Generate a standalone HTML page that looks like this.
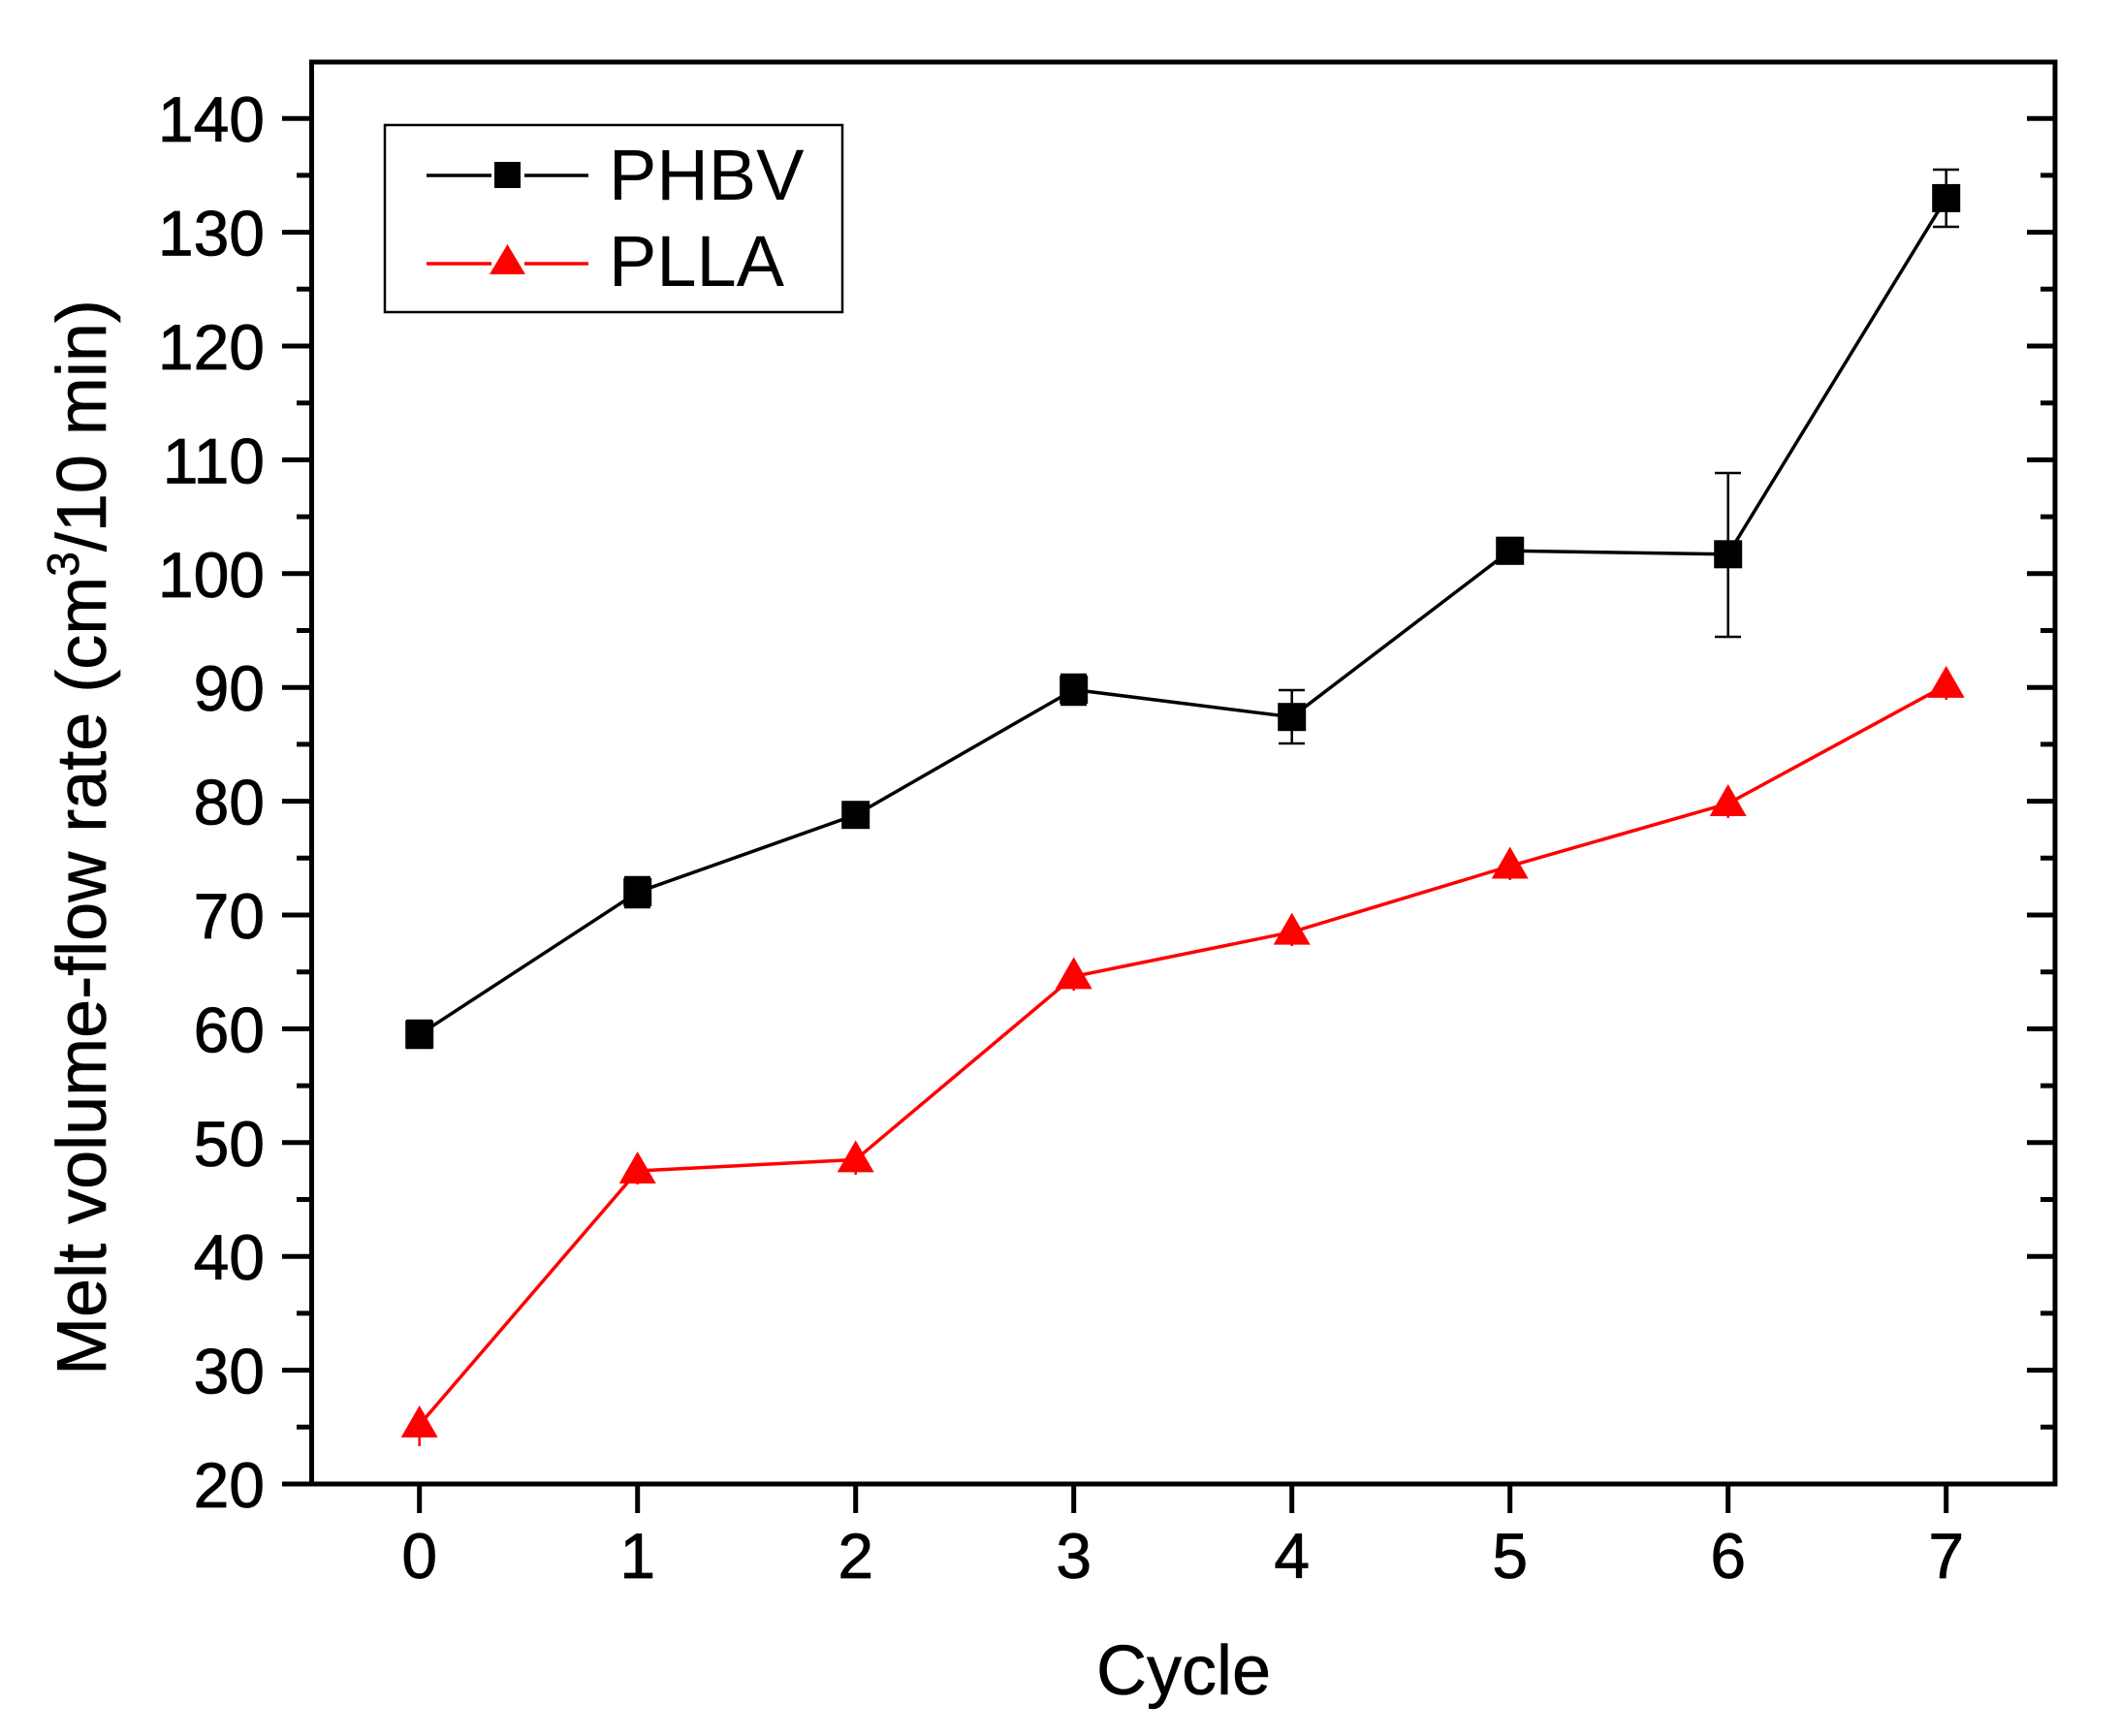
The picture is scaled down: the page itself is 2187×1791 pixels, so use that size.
<!DOCTYPE html>
<html><head><meta charset="utf-8"><style>html,body{margin:0;padding:0;background:#fff}svg{display:block}</style></head>
<body>
<svg width="2187" height="1791" viewBox="0 0 2187 1791" xmlns="http://www.w3.org/2000/svg" font-family="Liberation Sans, Arial, sans-serif">
<rect width="2187" height="1791" fill="#fff"/>
<g stroke="#000" stroke-width="5">
<path d="M291 1531H322M291 1413.6H322M291 1296.2H322M291 1178.8H322M291 1061.4H322M291 944H322M291 826.6H322M291 709.2H322M291 591.8H322M291 474.4H322M291 357H322M291 239.6H322M291 122.2H322"/>
<path d="M306 1472.3H322M306 1354.9H322M306 1237.5H322M306 1120.1H322M306 1002.7H322M306 885.3H322M306 767.9H322M306 650.5H322M306 533.1H322M306 415.7H322M306 298.3H322M306 180.9H322"/>
<path d="M2091 1413.6H2120M2091 1296.2H2120M2091 1178.8H2120M2091 1061.4H2120M2091 944H2120M2091 826.6H2120M2091 709.2H2120M2091 591.8H2120M2091 474.4H2120M2091 357H2120M2091 239.6H2120M2091 122.2H2120"/>
<path d="M2105 1472.3H2120M2105 1354.9H2120M2105 1237.5H2120M2105 1120.1H2120M2105 1002.7H2120M2105 885.3H2120M2105 767.9H2120M2105 650.5H2120M2105 533.1H2120M2105 415.7H2120M2105 298.3H2120M2105 180.9H2120"/>
<path d="M432.7 1531V1561M657.7 1531V1561M882.7 1531V1561M1107.7 1531V1561M1332.7 1531V1561M1557.7 1531V1561M1782.7 1531V1561M2007.7 1531V1561"/>
</g>
<rect x="321.5" y="64" width="1798.5" height="1467" fill="none" stroke="#000" stroke-width="5"/>
<g font-size="66" text-anchor="end" fill="#000" stroke="#000" stroke-width="0.8">
<text x="273" y="1555">20</text><text x="273" y="1437.6">30</text><text x="273" y="1320.2">40</text><text x="273" y="1202.8">50</text><text x="273" y="1085.4">60</text><text x="273" y="968">70</text><text x="273" y="850.6">80</text><text x="273" y="733.2">90</text><text x="273" y="615.8">100</text><text x="273" y="498.4">110</text><text x="273" y="381">120</text><text x="273" y="263.6">130</text><text x="273" y="146.2">140</text>
</g>
<g font-size="66" text-anchor="middle" fill="#000" stroke="#000" stroke-width="0.8">
<text x="432.7" y="1628">0</text><text x="657.7" y="1628">1</text><text x="882.7" y="1628">2</text><text x="1107.7" y="1628">3</text><text x="1332.7" y="1628">4</text><text x="1557.7" y="1628">5</text><text x="1782.7" y="1628">6</text><text x="2007.7" y="1628">7</text>
</g>
<text x="1221" y="1748" font-size="72" text-anchor="middle" stroke="#000" stroke-width="0.6">Cycle</text>
<text transform="translate(109,864) rotate(-90)" font-size="72" text-anchor="middle" stroke="#000" stroke-width="0.6">Melt volume-flow rate (cm<tspan dy="-28" font-size="46">3</tspan><tspan dy="28">/10 min)</tspan></text>
<polyline fill="none" stroke="#000" stroke-width="3.5" points="432.7,1067.3 657.7,920.5 882.7,840.7 1107.7,711.5 1332.7,739.7 1557.7,568.3 1782.7,571.8 2007.7,204.4"/>
<g stroke="#000" stroke-width="2.5">
<path d="M432.7 1053V1081M419 1053H446M419 1081H446"/>
<path d="M657.7 905V936M644 905H671M644 936H671"/>
<path d="M1107.7 696V727M1094 696H1121M1094 727H1121"/>
<path d="M1332.7 712V767M1319 712H1346M1319 767H1346"/>
<path d="M1557.7 555V581M1544 555H1571M1544 581H1571"/>
<path d="M1782.7 488V657M1769 488H1796M1769 657H1796"/>
<path d="M2007.7 175V234M1994 175H2021M1994 234H2021"/>
</g>
<g fill="#000">
<rect x="418.2" y="1052.8" width="29" height="29"/><rect x="643.2" y="906" width="29" height="29"/><rect x="868.2" y="826.2" width="29" height="29"/><rect x="1093.2" y="697" width="29" height="29"/><rect x="1318.2" y="725.2" width="29" height="29"/><rect x="1543.2" y="553.8" width="29" height="29"/><rect x="1768.2" y="557.3" width="29" height="29"/><rect x="1993.2" y="189.9" width="29" height="29"/>
</g>
<polyline fill="none" stroke="#f00" stroke-width="3.5" points="432.7,1470 657.7,1208 882.7,1196.4 1107.7,1007.4 1332.7,961.6 1557.7,893.5 1782.7,829 2007.7,706.9"/>
<g stroke="#f00" stroke-width="2.5">
<path d="M432.7 1456V1492M657.7 1194V1222M882.7 1182V1212M1107.7 993V1022M1332.7 947V976M1557.7 879V908M1782.7 815V844M2007.7 692V722"/>
</g>
<g fill="#f00">
<polygon points="432.7,1450 413.7,1483 451.7,1483"/><polygon points="657.7,1188 638.7,1221 676.7,1221"/><polygon points="882.7,1176.4 863.7,1209.4 901.7,1209.4"/><polygon points="1107.7,987.4 1088.7,1020.4 1126.7,1020.4"/><polygon points="1332.7,941.6 1313.7,974.6 1351.7,974.6"/><polygon points="1557.7,873.5 1538.7,906.5 1576.7,906.5"/><polygon points="1782.7,809 1763.7,842 1801.7,842"/><polygon points="2007.7,686.9 1988.7,719.9 2026.7,719.9"/>
</g>
<rect x="397" y="129" width="472" height="193" fill="#fff" stroke="#000" stroke-width="2.5"/>
<path d="M440 181H507M541 181H607" stroke="#000" stroke-width="3.5"/>
<rect x="510" y="167" width="27" height="27" fill="#000"/>
<path d="M440 272H507M541 272H607" stroke="#f00" stroke-width="3.5"/>
<polygon points="523.5,252 505,283 542,283" fill="#f00"/>
<text x="628" y="206" font-size="74">PHBV</text>
<text x="628" y="295" font-size="74">PLLA</text>
</svg>
</body></html>
